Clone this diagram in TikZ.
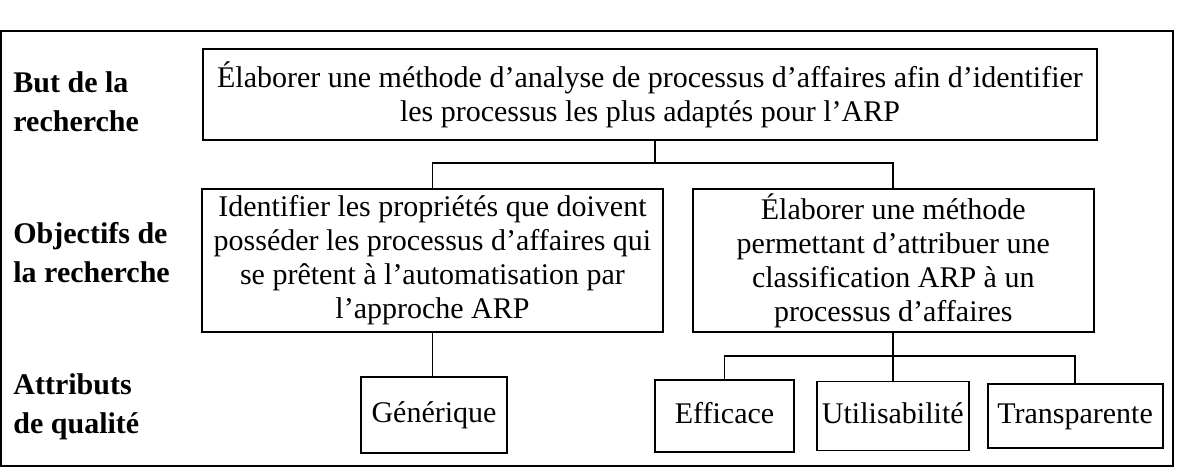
\documentclass[tikz,border=0pt]{standalone}
\usepackage{fontspec}
\setmainfont{Liberation Serif}
\usepackage{tikz}
\usetikzlibrary{positioning}
\tikzset{
  box/.style={rectangle, draw=black, line width=0.9pt, fill=white,
              align=center, inner sep=1pt, font=\fontsize{15}{17}\selectfont},
  attr/.style={box, text height=10.5pt, text depth=3.5pt},
  lbl/.style={anchor=west, align=left, inner sep=0pt,
              font=\fontsize{15}{19.5}\selectfont\bfseries},
  link/.style={draw=black, line width=0.9pt},
  frame/.style={draw=black, line width=1.1pt},
}

\begin{document}
\begin{tikzpicture}[x=0.5pt, y=-0.5pt]
  \useasboundingbox (0,0) rectangle (1177,476);
  \draw[frame] (1,31) rectangle (1173,466);
  % row labels
  \node[lbl] (lbut) at (13,101.5) {But de la\\recherche};
  \node[lbl] (lobj) at (13,252.5) {Objectifs de\\la recherche};
  \node[lbl] (latt) at (13,407) {Attributs\\de qualité};
  % goal
  \node[box, minimum width=447pt, minimum height=45.5pt] (but) at (650,94.5)
    {Élaborer une méthode d’analyse de processus d’affaires afin d’identifier\\
     les processus les plus adaptés pour l’ARP};
  % objectives
  \node[box, minimum width=230.5pt, minimum height=71.5pt] (obj1) at (432.5,260.5)
    {Identifier les propriétés que doivent\\
     posséder les processus d’affaires qui\\
     se prêtent à l’automatisation par\\
     l’approche ARP};
  \node[box, minimum width=200.5pt, minimum height=71.5pt,
        right=14pt of obj1] (obj2)
    {Élaborer une méthode\\
     permettant d’attribuer une\\
     classification ARP à un\\
     processus d’affaires};
  % quality attributes
  \node[attr, minimum width=73pt, minimum height=38pt] (gen) at (434,415) {Générique};
  \node[attr, minimum width=69.5pt, minimum height=36pt] (eff) at (724.5,416) {Efficace};
  \node[attr, minimum width=76pt, minimum height=34.5pt,
        right=10.5pt of eff] (uti) {Utilisabilité};
  \node[attr, minimum width=87.5pt, minimum height=32pt,
        right=8.5pt of uti] (tra) {Transparente};
  % connectors
  \coordinate (j1) at (655,163);
  \coordinate (j2) at (893,356);
  \draw[link] (but.south -| j1) -- (j1);
  \draw[link] (obj1.north) |- (j1) -| (obj2.north);
  \draw[link] (obj1.south) -- (obj1.south |- gen.north);
  \draw[link] (obj2.south -| j2) -- (j2);
  \draw[link] (eff.north) |- (j2) -| (tra.north);
  \draw[link] (uti.north -| j2) -- (j2);
\end{tikzpicture}
\end{document}
